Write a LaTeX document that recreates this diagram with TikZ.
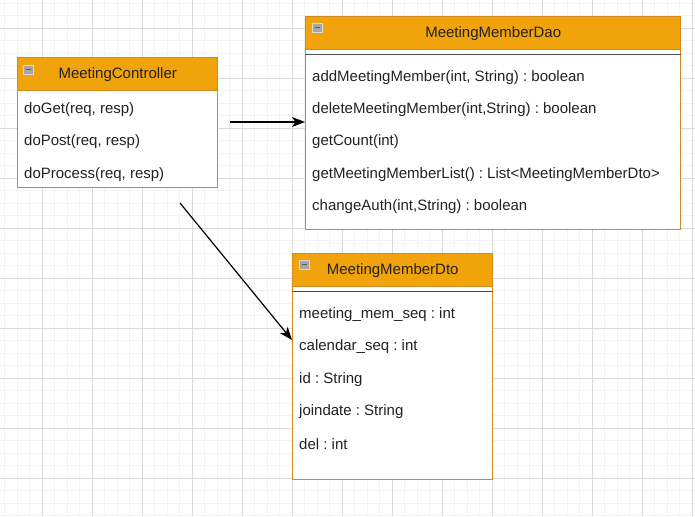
\documentclass[tikz,border=0pt]{standalone}
\usepackage{fontspec}
\setmainfont{Liberation Sans}
\usetikzlibrary{arrows.meta,calc}
\definecolor{hdrfill}{HTML}{F0A30A}
\definecolor{boxline}{HTML}{D08A20}
\definecolor{txt}{HTML}{222222}
\definecolor{gridminor}{HTML}{F2F2F2}
\definecolor{gridmajor}{HTML}{DADADA}
\frenchspacing
\begin{document}
\begin{tikzpicture}[x=1pt,y=-1pt,
  font=\fontsize{15pt}{18pt}\selectfont,
  classbox/.style={draw=boxline,line width=1.4pt,fill=white,rectangle,inner sep=0pt,anchor=north west},
  header/.style={draw=boxline,line width=1.4pt,fill=hdrfill,rectangle,inner sep=0pt,anchor=north west,text=txt},
  rowtext/.style={anchor=west,inner sep=0pt,text=txt},
  sepline/.style={draw=black!70,line width=1.6pt},
  icon/.style={draw=gray!30,fill=gray!70,line width=0.7pt,rectangle,inner sep=0pt,minimum width=10pt,minimum height=9pt,anchor=north west},
  conn/.style={draw=black,line width=1.2pt,-{Stealth[length=13pt,width=10pt,inset=3.5pt]}},
  minorg/.style={draw=gridminor,line width=0.8pt},
  majorg/.style={draw=gridmajor,line width=0.8pt}]
\useasboundingbox (0,0) rectangle (695,516);
\fill[white] (0,0) rectangle (695,516);
% grid
\foreach \i in {0,...,55} \draw[minorg] ({4.5+12.5*\i},0) -- ({4.5+12.5*\i},516);
\foreach \j in {0,...,41} \draw[minorg] (0,{3+12.5*\j}) -- (695,{3+12.5*\j});
\foreach \i in {0,...,13} \draw[majorg] ({42+50*\i},0) -- ({42+50*\i},516);
\foreach \j in {0,...,9} \draw[majorg] (0,{28+50*\j}) -- (695,{28+50*\j});

% MeetingController
\node[classbox,minimum width=200pt,minimum height=130pt] (ctl) at (17,57) {};
\node[header,minimum width=200pt,minimum height=33pt] (ctlh) at (ctl.north west) {MeetingController};
\node[icon] (ctli) at ($(ctl.north west)+(6,8)$) {};
\draw[black!65,line width=1.2pt] ($(ctli.west)+(2.5,0)$) -- ($(ctli.east)+(-2.5,0)$);
\node[rowtext] (ctl1) at (24,109.5) {doGet(req, resp)};
\node[rowtext] (ctl2) at (24,142) {doPost(req, resp)};
\node[rowtext] (ctl3) at (24,174.5) {doProcess(req, resp)};

% MeetingMemberDao
\node[classbox,minimum width=375pt,minimum height=213pt] (dao) at (305,16) {};
\node[header,minimum width=375pt,minimum height=33pt] (daoh) at (dao.north west) {MeetingMemberDao};
\node[icon] (daoi) at ($(dao.north west)+(7,7)$) {};
\draw[black!65,line width=1.2pt] ($(daoi.west)+(2.5,0)$) -- ($(daoi.east)+(-2.5,0)$);
\draw[sepline] ($(daoh.south west)+(0,4)$) -- ($(daoh.south east)+(0,4)$);
\node[rowtext] (dao1) at (312,77.5) {addMeetingMember(int, String) : boolean};
\node[rowtext] (dao2) at (312,110) {deleteMeetingMember(int,String) : boolean};
\node[rowtext] (dao3) at (312,142) {getCount(int)};
\node[rowtext] (dao4) at (312,174.5) {getMeetingMemberList() : List<MeetingMemberDto>};
\node[rowtext] (dao5) at (312,206.5) {changeAuth(int,String) : boolean};

% MeetingMemberDto
\node[classbox,minimum width=200pt,minimum height=226pt] (dto) at (292,253) {};
\node[header,minimum width=200pt,minimum height=33pt] (dtoh) at (dto.north west) {MeetingMemberDto};
\node[icon] (dtoi) at ($(dto.north west)+(7,7)$) {};
\draw[black!65,line width=1.2pt] ($(dtoi.west)+(2.5,0)$) -- ($(dtoi.east)+(-2.5,0)$);
\draw[sepline] ($(dtoh.south west)+(0,4)$) -- ($(dtoh.south east)+(0,4)$);
\node[rowtext] (dto1) at (299,314.5) {meeting\_mem\_seq : int};
\node[rowtext] (dto2) at (299,347) {calendar\_seq : int};
\node[rowtext] (dto3) at (299,379.5) {id : String};
\node[rowtext] (dto4) at (299,412) {joindate : String};
\node[rowtext] (dto5) at (299,444.5) {del : int};

% connectors
\coordinate (a1s) at (230,122);
\coordinate (a2s) at (180,203);
\coordinate (a2e) at ($(dto.north west)+(0,87)$);
\draw[conn] (a1s) -- (a1s-|dao.west);
\draw[conn] (a2s) -- (a2e);
\end{tikzpicture}
\end{document}
